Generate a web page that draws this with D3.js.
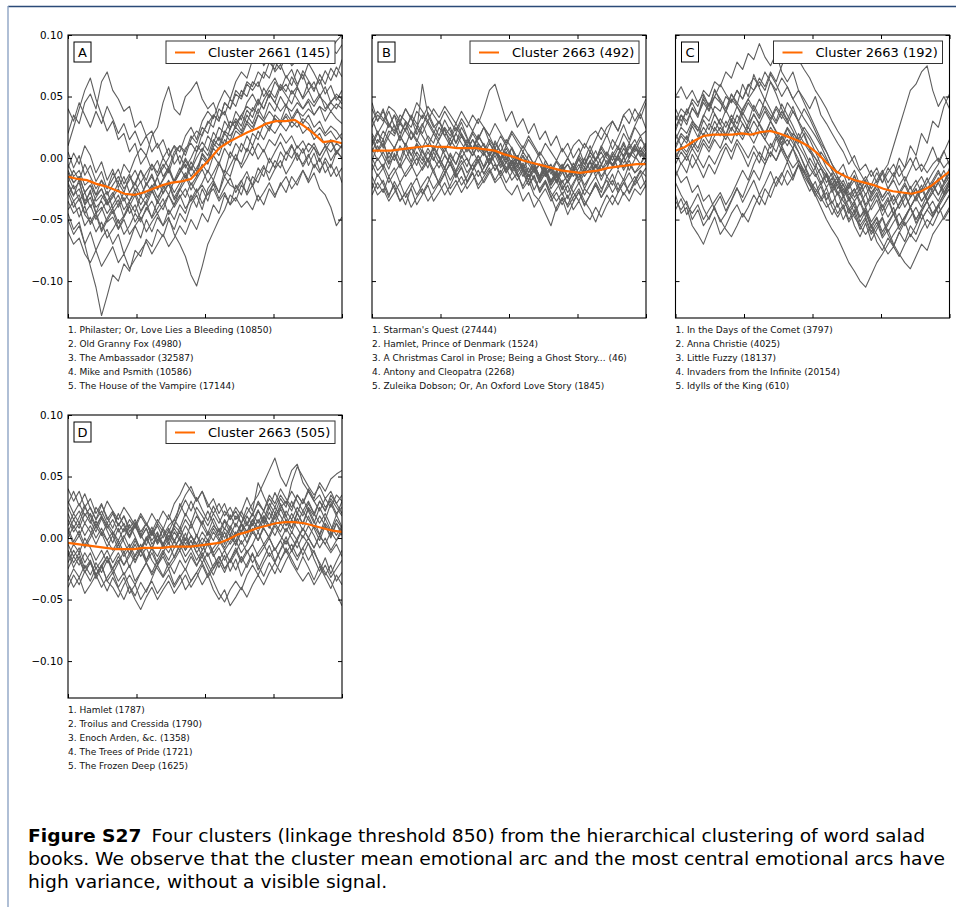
<!DOCTYPE html>
<html><head><meta charset="utf-8">
<script src="https://cdn.jsdelivr.net/npm/d3@7"></script>
<style>body{margin:0;background:#fff}svg{display:block}</style>
</head><body>
<svg id="c" width="956" height="907"></svg>
<script>
// values in thousandths of the emotional-arc score
const yTicks=[-0.10,-0.05,0.00,0.05,0.10];
const xTicks=[0,0.25,0.5,0.75,1];

const legendA="Cluster 2661 (145)", legendB="Cluster 2663 (492)", legendC="Cluster 2663 (192)", legendD="Cluster 2663 (505)";

const titlesA=["1. Philaster; Or, Love Lies a Bleeding (10850)","2. Old Granny Fox (4980)","3. The Ambassador (32587)","4. Mike and Psmith (10586)","5. The House of the Vampire (17144)"];
const titlesB=["1. Starman's Quest (27444)","2. Hamlet, Prince of Denmark (1524)","3. A Christmas Carol in Prose; Being a Ghost Story... (46)","4. Antony and Cleopatra (2268)","5. Zuleika Dobson; Or, An Oxford Love Story (1845)"];
const titlesC=["1. In the Days of the Comet (3797)","2. Anna Christie (4025)","3. Little Fuzzy (18137)","4. Invaders from the Infinite (20154)","5. Idylls of the King (610)"];
const titlesD=["1. Hamlet (1787)","2. Troilus and Cressida (1790)","3. Enoch Arden, &c. (1358)","4. The Trees of Pride (1721)","5. The Frozen Deep (1625)"];

const meanA=[-15,-17,-18,-21,-23,-26,-29,-30,-28,-25,-22,-20,-19,-17,-9,-1,8,13,17,21,24,28,30,30,31,26,20,13,14,12];
const meanB=[6,6,6,7,8,9,10,9,9,8,8,8,7,6,3,1,-2,-4,-6,-8,-10,-11,-12,-11,-10,-8,-7,-6,-5,-5];
const meanC=[6,9,14,18,19,19,19,20,19,21,22,20,17,14,10,4,-4,-11,-15,-18,-20,-22,-25,-27,-28,-29,-27,-23,-17,-11];
const meanD=[-4,-5,-6,-7,-8,-9,-9,-9,-8,-8,-8,-7,-7,-7,-6,-5,-4,-1,3,5,8,10,12,13,13,12,10,8,6,5];

const arcsA=[
[20,35,28,45,52,40,62,70,55,48,38,42,25,30,18,22,8,15,2,10,-5,8,12,5,20,28,35,30,45,40,52,48,60,55,62,50,58,65,55,60,52,58,48,55,45,52,40,46,50,44],
[-45,-58,-52,-70,-88,-105,-128,-112,-95,-100,-86,-92,-75,-80,-66,-72,-58,-64,-50,-58,-45,-52,-38,-30,-42,-25,-18,-28,-10,-15,0,-5,8,2,12,5,15,10,20,12,18,8,14,5,12,2,10,-2,6,0],
[-20,-30,-25,-38,-32,-45,-40,-52,-48,-58,-50,-62,-55,-48,-60,-52,-45,-55,-48,-62,-70,-80,-95,-104,-88,-70,-60,-50,-42,-30,-35,-22,-28,-15,-20,-8,-12,-2,-8,5,0,10,4,12,8,2,10,5,12,8],
[-10,-20,-15,-28,-22,-30,-18,-25,-12,-20,-5,-12,0,8,2,18,25,45,58,40,35,50,55,62,48,40,45,32,38,25,30,22,35,28,40,32,45,38,50,42,55,48,40,46,35,42,30,38,32,28],
[-30,-22,-35,-28,-40,-32,-25,-38,-30,-20,-28,-15,-22,-10,-18,-5,-12,0,-8,5,10,2,15,22,18,30,25,40,35,48,42,55,50,62,58,70,65,78,72,85,75,80,88,82,90,85,92,88,95,100],
[40,30,45,35,25,38,28,42,32,20,28,15,22,10,18,5,12,0,8,-5,2,-8,0,10,5,18,12,25,20,30,25,35,42,38,48,40,52,45,38,44,32,40,28,35,25,30,20,26,22,15],
[-50,-62,-55,-70,-60,-75,-65,-58,-70,-62,-78,-68,-55,-65,-50,-60,-48,-55,-42,-50,-38,-45,-30,-40,-25,-35,-20,-28,-15,-22,-25,-18,-30,-22,-35,-28,-20,-30,-22,-15,-25,-18,-10,-20,-12,-25,-30,-40,-55,-48],
[-15,-25,-20,-35,-28,-40,-35,-45,-38,-30,-42,-35,-28,-38,-30,-22,-32,-25,-18,-28,-20,-12,-22,-15,-5,-12,2,-5,8,0,12,5,18,10,22,15,25,20,28,22,30,25,32,28,20,25,18,22,15,20],
[-5,-15,-10,-22,-18,-30,-25,-35,-28,-40,-32,-45,-38,-50,-42,-35,-45,-38,-30,-40,-32,-25,-35,-28,-20,-10,-18,-5,-12,5,-2,12,5,20,15,28,22,35,30,42,38,45,40,48,42,50,45,38,44,40],
[-25,-35,-30,-45,-38,-50,-42,-35,-45,-38,-28,-35,-25,-32,-20,-28,-15,-5,-12,2,10,5,18,12,25,20,35,30,45,40,55,50,62,58,70,65,78,72,85,80,90,84,78,86,80,88,82,90,85,92],
[-35,-45,-40,-55,-48,-60,-52,-65,-58,-50,-62,-55,-45,-52,-40,-48,-35,-42,-30,-38,-25,-32,-20,-28,-22,-30,-25,-35,-28,-38,-32,-40,-35,-42,-30,-38,-25,-32,-20,-28,-15,-22,-10,-18,-5,-12,0,-8,5,0],
[10,25,40,55,65,48,35,22,30,15,20,5,12,-5,2,-10,-2,-15,-8,-20,-12,-5,-15,-8,0,-5,8,2,15,10,22,18,28,22,35,30,25,32,28,36,30,38,34,40,35,42,38,45,40,48],
[-60,-70,-65,-78,-85,-75,-88,-80,-72,-85,-78,-90,-82,-75,-68,-78,-70,-62,-72,-65,-55,-62,-50,-58,-45,-52,-38,-45,-30,-38,-22,-30,-15,-22,-8,-15,0,-8,5,-2,10,2,-5,3,-8,0,-12,-5,-15,-8],
[-20,-10,-18,-5,-15,-25,-18,-30,-22,-15,-25,-18,-10,-20,-12,-5,-15,-8,0,10,5,18,25,15,30,38,32,45,55,48,62,70,65,80,88,75,82,70,76,65,72,60,68,55,62,50,58,45,52,48],
[-12,-20,-15,-28,-22,-35,-30,-38,-32,-25,-35,-28,-20,-30,-22,-15,-25,-18,-10,-20,-12,-2,-10,0,8,2,15,10,22,18,25,20,30,25,35,30,38,32,28,34,25,30,20,25,15,20,10,15,5,10],
[-28,-40,-33,-46,-52,-44,-58,-49,-41,-53,-47,-36,-44,-31,-38,-27,-35,-22,-30,-18,-8,-16,-3,-11,4,-2,12,7,20,14,28,35,29,41,36,47,55,49,60,54,66,58,71,63,56,64,52,59,47,55],
[5,-8,2,-14,-6,-19,-11,-25,-17,-9,-21,-13,-27,-19,-32,-24,-16,-29,-21,-34,-26,-18,-7,-15,3,-4,9,17,10,24,32,26,39,33,46,40,52,45,58,51,44,57,49,62,54,68,60,73,66,80],
[-42,-35,-48,-39,-54,-46,-60,-51,-43,-57,-48,-39,-52,-44,-36,-49,-41,-33,-46,-38,-30,-41,-34,-25,-37,-29,-21,-33,-24,-16,-28,-19,-11,-23,-14,-6,-18,-9,-2,-13,-5,4,-7,1,9,-3,6,14,3,11],
[-8,4,-5,10,2,-12,-3,-18,-9,-24,-15,-28,-20,-10,-22,-13,-26,-17,-7,-19,-11,0,-9,5,13,6,21,14,30,23,38,31,45,52,43,57,49,62,55,67,59,72,64,77,69,60,71,63,74,66],
[-22,-31,-17,-38,-26,-45,-33,-27,-41,-34,-48,-39,-30,-43,-35,-25,-37,-28,-20,-32,-24,-14,-26,-17,-9,-20,-12,-3,-15,-6,3,-8,0,10,-1,7,-4,5,13,3,11,-2,8,-6,4,-10,-3,-15,-7,-20]
];

const arcsB=[
[45,30,40,25,35,20,28,15,22,60,35,25,30,18,25,12,20,8,15,5,12,2,8,0,5,-5,2,-8,-2,-10,-5,-12,-8,-15,-10,-5,-12,0,-8,5,-2,10,2,15,8,20,12,25,18,22],
[-20,-30,-25,-35,-28,-20,-32,-25,-38,-30,-22,-35,-28,-20,-30,-22,-15,-25,-18,-10,-20,-12,-5,-15,-8,-18,-12,-25,-18,-30,-35,-45,-55,-40,-32,-38,-28,-35,-25,-30,-20,-28,-15,-22,-10,-18,-5,-12,-8,-2],
[10,20,15,28,22,35,30,25,38,32,42,35,28,38,30,22,32,25,35,28,40,55,60,45,30,38,25,32,20,28,15,22,10,18,5,12,0,8,-5,2,-8,0,5,-2,8,2,12,5,15,10],
[0,-10,-5,-15,-8,-20,-12,-5,-15,-8,0,-10,-2,-12,-5,-15,-8,-20,-12,-25,-18,-10,-20,-15,-25,-30,-22,-35,-28,-40,-32,-25,-35,-28,-38,-30,-42,-35,-45,-50,-40,-48,-38,-30,-38,-28,-35,-25,-30,-22],
[25,35,30,42,38,30,40,32,25,35,28,20,30,22,15,25,18,10,20,12,5,15,8,0,10,2,-5,5,-2,-10,-5,-15,-8,-20,-12,-5,-15,-8,0,-10,-2,5,-5,2,10,0,8,15,5,12],
[-30,-20,-28,-15,-25,-35,-28,-40,-32,-25,-35,-28,-20,-30,-22,-12,-22,-15,-5,-15,-8,0,-10,-2,-12,-5,-15,-8,-18,-10,-20,-12,-22,-15,-25,-18,-28,-20,-30,-22,-15,-25,-18,-28,-20,-30,-22,-15,-25,-18],
[15,5,12,0,8,18,10,22,15,8,18,12,25,18,10,20,12,5,15,8,2,12,5,-2,8,0,-8,2,-5,-12,-5,-15,-8,-18,-10,-20,-12,-5,-15,-8,0,-10,-5,5,-2,8,0,10,4,-2],
[5,15,10,22,18,28,22,15,25,18,10,20,12,5,15,8,18,10,2,12,5,-5,5,-2,-10,-2,-12,-5,-15,-8,-20,-12,-25,-18,-30,-22,-35,-28,-38,-30,-22,-32,-25,-18,-28,-20,-12,-22,-15,-8],
[-10,0,-8,5,-2,10,2,-5,5,-2,8,0,-8,2,-5,-12,-5,0,-10,-3,5,-5,2,-8,0,-10,-18,-10,-22,-15,-28,-20,-32,-25,-18,-28,-20,-12,-22,-15,-5,-15,-8,2,-8,0,10,2,-5,5],
[30,38,32,25,35,28,40,32,45,38,30,40,33,42,35,28,38,30,22,32,25,18,28,20,12,22,15,8,18,10,2,12,5,-2,8,0,10,15,8,18,22,15,25,30,22,35,28,40,32,45],
[-15,-25,-18,-30,-22,-35,-28,-20,-30,-22,-15,-25,-18,-8,-18,-10,-2,-12,-5,2,-8,0,-10,-2,5,-5,2,-8,-15,-8,-18,-10,-20,-12,-5,-15,-8,-18,-10,-2,-12,-5,-15,-8,0,-10,-2,-12,-5,2],
[20,12,22,15,8,18,10,2,12,5,-2,8,0,-8,2,-5,5,15,8,18,10,2,12,5,15,8,0,10,2,-5,5,-2,-10,-2,-8,0,-8,2,-5,5,-2,8,0,-5,2,-8,0,8,2,10],
[-5,-15,-8,-20,-12,-5,-15,-8,0,-10,-2,-12,-20,-12,-25,-18,-28,-20,-12,-22,-15,-8,-18,-10,-20,-12,-5,-15,-8,-18,-25,-18,-28,-35,-28,-40,-32,-25,-35,-42,-52,-40,-30,-38,-28,-20,-28,-18,-10,-15],
[40,30,38,28,20,30,22,35,28,20,30,22,15,25,18,28,20,12,22,15,25,18,8,18,10,20,12,5,15,8,0,-10,-5,-15,-8,0,-8,2,12,5,15,25,18,30,22,35,40,30,38,48],
[8,-2,5,-5,2,-8,0,8,2,-5,5,-2,10,3,-5,5,0,8,2,10,4,-2,6,0,-8,-2,-10,-4,-12,-6,-15,-10,-18,-12,-20,-14,-10,-16,-8,-12,-5,-10,-2,-6,2,-4,4,0,6,2],
[12,22,8,18,27,14,24,33,19,28,16,6,15,24,11,20,29,17,7,16,25,13,3,12,-1,8,-6,2,-12,-3,-17,-8,-22,-13,-26,-18,-9,-21,-12,-3,-15,-6,4,-7,2,11,0,9,18,6],
[-25,-13,-21,-32,-19,-28,-38,-24,-16,-29,-20,-9,-22,-13,-3,-16,-7,-19,-10,-1,-13,-4,6,-6,3,-9,0,-12,-22,-14,-27,-19,-31,-43,-33,-46,-36,-27,-39,-30,-20,-32,-23,-13,-26,-17,-29,-20,-11,-24],
[32,20,28,38,26,17,30,21,13,26,37,27,18,31,22,12,25,16,6,19,10,1,14,5,-4,9,-1,-10,3,-6,-15,-2,-11,-20,-7,-16,-4,-13,-1,10,-2,9,19,7,17,27,15,26,36,24],
[-2,10,1,-9,4,-6,8,-3,11,1,-8,5,-4,9,-1,-11,2,-7,6,-3,-13,-4,7,-3,-12,-2,-14,-23,-13,-26,-16,-7,-19,-10,-22,-33,-22,-12,-25,-15,-6,-18,-8,3,-9,1,-10,-1,9,-3],
[18,6,15,-4,9,-2,12,3,-6,7,-3,10,1,-9,4,-5,8,-1,-10,2,-7,5,-4,-13,-3,-11,-1,-9,-18,-7,-15,-5,-13,-3,-11,-20,-10,-1,-12,-3,6,-5,4,-6,3,13,2,11,1,7]
];

const arcsC=[
[30,40,35,48,42,55,50,62,58,70,65,78,72,85,80,93,82,75,85,70,62,70,55,48,40,50,35,28,20,12,5,-5,2,-10,-5,-15,-8,-20,-12,-5,-15,-8,0,-10,-5,-12,-5,0,-8,-2],
[10,20,15,28,22,35,30,42,38,50,45,55,48,60,55,65,58,70,62,75,85,90,80,72,65,55,48,40,30,22,15,5,-5,-12,-20,-28,-22,-32,-25,-18,-28,-20,-30,-22,-15,-25,-18,-10,-20,-12],
[-30,-45,-40,-55,-62,-70,-58,-48,-62,-55,-45,-38,-48,-40,-30,-38,-25,-32,-20,-12,-22,-15,-5,-12,0,-8,5,-2,-10,-18,-25,-32,-40,-48,-42,-55,-48,-60,-52,-45,-55,-48,-40,-50,-42,-35,-45,-38,-30,-25],
[20,10,18,8,15,25,18,30,22,15,25,18,28,20,12,22,15,8,18,10,0,8,-5,-15,-22,-30,-40,-50,-58,-65,-75,-85,-92,-100,-105,-95,-85,-78,-70,-62,-55,-48,-40,-50,-42,-35,-28,-35,-25,-18],
[0,10,5,15,8,20,12,25,18,30,22,35,28,20,30,22,15,25,18,10,20,12,5,-5,-15,-8,-20,-12,-25,-18,-30,-22,-15,-25,-18,-10,-20,-12,-5,10,25,40,55,60,70,75,55,42,50,40],
[40,30,38,45,35,50,42,55,48,40,52,45,38,48,40,32,42,35,28,38,30,22,12,20,8,0,-8,-15,-22,-30,-25,-35,-28,-20,-30,-22,-12,-20,-8,-15,0,-8,10,2,20,12,30,25,42,52],
[-10,-20,-15,-28,-22,-35,-30,-42,-50,-58,-64,-55,-45,-52,-40,-30,-38,-25,-15,-22,-10,-18,-5,-12,-20,-28,-35,-28,-40,-48,-40,-52,-45,-58,-50,-62,-55,-48,-60,-52,-45,-55,-48,-40,-50,-42,-35,-45,-38,-30],
[25,35,30,40,35,45,38,50,45,38,48,42,35,45,38,48,40,32,42,35,28,38,30,22,15,5,-5,-12,-20,-28,-35,-42,-35,-48,-40,-52,-45,-38,-48,-40,-55,-48,-40,-32,-40,-30,-22,-30,-20,-12],
[5,-5,2,-8,0,12,5,15,8,20,12,25,18,28,35,28,38,30,40,32,45,38,30,40,32,22,12,5,-5,-15,-22,-30,-25,-35,-45,-55,-62,-70,-78,-72,-80,-70,-62,-68,-58,-50,-55,-45,-38,-30],
[-35,-42,-35,-50,-42,-55,-48,-40,-52,-45,-35,-25,-32,-20,-10,-18,-5,5,-2,10,15,8,20,12,5,0,-8,-15,-22,-15,-28,-20,-32,-25,-38,-30,-22,-32,-25,-35,-28,-40,-32,-25,-35,-28,-20,-30,-22,-15],
[15,25,20,30,25,18,28,22,32,25,35,28,40,48,55,62,55,68,60,50,58,48,40,32,25,18,10,0,-10,-18,-12,-25,-18,-30,-22,-35,-28,-40,-32,-45,-38,-30,-40,-32,-25,-35,-28,-20,-30,-22],
[-5,5,-2,8,0,-8,2,-5,5,12,5,15,8,0,10,2,-5,5,-2,8,0,-8,-2,-10,-18,-25,-32,-40,-35,-45,-38,-50,-42,-55,-48,-60,-52,-65,-58,-70,-78,-85,-90,-80,-70,-75,-62,-55,-48,-40],
[50,58,48,55,45,52,42,50,60,52,45,55,48,58,65,58,70,62,55,65,58,48,55,45,35,25,15,5,-5,-12,-5,-18,-10,-22,-15,-25,-18,-10,-20,-12,-22,-15,-25,-18,-28,-20,-12,-5,5,15],
[0,8,2,12,5,15,8,18,25,18,30,22,15,25,18,28,20,30,22,15,25,18,10,2,-8,-15,-8,-20,-12,-25,-18,-28,-35,-28,-40,-32,-25,-35,-28,-38,-30,-22,-32,-25,-35,-28,-20,-12,-20,-8],
[-20,-30,-38,-45,-38,-50,-42,-35,-28,-38,-30,-20,-10,-18,-5,5,-2,12,5,18,10,20,15,25,18,10,2,-8,-15,-22,-30,-40,-48,-55,-62,-55,-68,-75,-65,-72,-60,-68,-55,-62,-50,-42,-48,-40,-32,-25],
[22,35,27,41,33,48,39,56,46,37,52,43,60,50,68,57,47,62,52,40,31,42,29,18,7,-5,-14,-24,-16,-29,-21,-33,-25,-38,-29,-42,-34,-47,-38,-30,-41,-33,-23,-35,-26,-16,-28,-19,-10,-21],
[-15,-4,-12,3,-6,-16,-5,-13,-2,9,-1,12,3,-7,5,-4,10,1,16,6,-3,8,-1,-12,-21,-31,-23,-36,-46,-37,-50,-41,-55,-64,-53,-67,-58,-49,-62,-71,-61,-52,-64,-55,-45,-57,-48,-38,-50,-42],
[8,18,12,26,17,31,23,36,28,19,32,24,37,29,43,34,48,39,30,44,35,26,16,6,-4,-13,-22,-14,-28,-19,-32,-24,-14,-27,-18,-30,-22,-12,-25,-16,-6,-19,-9,1,-11,-2,9,-3,6,-6],
[-42,-33,-46,-38,-29,-41,-50,-39,-31,-43,-34,-24,-36,-27,-18,-30,-21,-11,-23,-14,-3,-15,-6,-17,-27,-19,-33,-24,-37,-28,-41,-33,-45,-36,-48,-39,-30,-43,-34,-46,-37,-28,-40,-31,-22,-34,-25,-16,-28,-19],
[35,26,40,31,22,34,45,36,27,39,30,42,33,24,36,27,18,30,21,12,24,15,5,-6,-17,-28,-20,-34,-25,-40,-31,-45,-37,-52,-43,-57,-49,-63,-54,-45,-58,-50,-40,-53,-44,-35,-47,-38,-29,-20]
];

const arcsD=[
[40,30,38,25,32,20,28,15,22,10,18,5,12,0,8,-5,2,-8,0,10,5,15,8,18,10,2,10,5,15,8,18,12,25,18,30,22,35,28,40,32,25,35,28,38,30,22,32,25,35,30],
[-10,-20,-12,-25,-18,-30,-22,-35,-28,-40,-32,-45,-38,-50,-42,-35,-45,-38,-30,-40,-32,-25,-35,-28,-20,-30,-22,-15,-25,-18,-10,-20,-12,-5,-15,-8,0,-10,-2,8,0,-8,2,-5,-12,-20,-28,-35,-45,-55],
[15,5,12,2,10,0,8,-2,5,-5,2,-8,0,-10,-2,5,-5,2,10,15,25,35,42,30,38,25,32,20,28,15,22,12,20,28,35,45,55,65,50,42,55,60,45,38,30,35,25,30,20,25],
[-20,-10,-18,-28,-20,-30,-22,-15,-25,-18,-30,-22,-35,-28,-20,-30,-22,-12,-22,-15,-5,-15,-8,-18,-10,-2,-12,-5,5,-5,2,12,5,15,8,18,10,2,12,5,15,8,0,10,2,-8,0,-10,-2,5],
[5,15,8,20,12,25,18,30,22,15,25,18,10,20,12,2,12,5,-5,5,-2,-10,-2,-12,-20,-12,-25,-18,-10,-20,-12,-2,-12,-5,5,-5,2,12,5,15,8,20,12,25,18,30,22,35,28,20],
[-30,-40,-32,-45,-38,-30,-40,-32,-25,-35,-28,-40,-50,-58,-48,-40,-50,-42,-35,-45,-38,-30,-40,-32,-22,-32,-25,-15,-25,-18,-8,-18,-10,-20,-12,-5,-15,-8,-18,-10,-20,-28,-35,-28,-38,-30,-22,-32,-25,-18],
[0,10,2,12,5,-5,5,-2,-10,-2,-12,-5,-15,-8,0,-8,2,-5,5,15,8,20,12,25,18,10,20,12,22,15,25,18,10,20,12,22,15,25,18,10,20,12,22,15,8,18,10,2,12,5],
[25,15,22,12,20,10,18,8,15,5,12,2,10,0,8,-2,5,-5,2,-8,0,-10,-2,-12,-5,-15,-8,-2,-10,-3,5,-5,2,12,5,15,8,18,25,30,22,35,28,40,32,45,38,48,52,55],
[-5,-15,-8,-20,-12,-25,-18,-10,-20,-12,-22,-15,-5,-15,-8,-18,-25,-32,-25,-38,-30,-42,-35,-28,-38,-30,-42,-50,-42,-55,-48,-40,-48,-38,-30,-38,-28,-20,-28,-18,-10,-18,-8,0,-8,2,-5,5,-2,8],
[10,20,12,25,18,8,18,10,2,12,5,15,8,18,10,20,12,22,15,28,35,45,38,30,38,28,20,28,18,25,15,22,12,20,28,22,32,25,35,28,38,30,22,30,20,12,20,10,2,10],
[-15,-5,-12,0,-8,-18,-10,-20,-12,-5,-15,-8,-18,-10,-20,-12,-22,-15,-25,-18,-10,-20,-12,-22,-15,-5,-15,-8,-18,-10,-2,-12,-5,5,-2,8,0,-10,-2,-12,-5,-15,-8,-18,-10,-22,-30,-22,-35,-28],
[30,20,28,18,25,15,22,12,20,10,18,8,15,5,12,2,10,0,8,-2,5,-5,2,-8,0,-5,5,-2,8,2,12,5,18,10,22,15,28,20,32,25,45,58,50,42,35,42,32,38,28,35],
[-25,-15,-22,-12,-20,-30,-22,-35,-40,-48,-38,-30,-38,-28,-20,-28,-18,-10,-18,-8,0,-8,2,-5,5,-2,8,0,-8,2,-5,5,12,5,15,8,0,10,2,-5,5,-2,8,0,-8,2,-5,-12,-5,-15],
[5,-5,2,-8,0,10,2,12,5,-2,8,0,10,2,12,5,15,8,-2,8,0,10,2,-5,-15,-25,-35,-45,-52,-42,-35,-42,-30,-22,-30,-20,-12,-20,-10,-2,-10,0,8,0,10,2,12,5,15,8],
[-35,-25,-32,-22,-30,-20,-28,-18,-25,-15,-22,-12,-20,-10,-18,-8,-15,-5,-12,-2,-10,0,-8,2,-5,5,-2,8,0,10,2,12,5,15,8,18,10,20,12,22,15,25,18,28,20,30,22,32,25,18],
[20,8,17,27,14,5,16,6,-4,8,-3,-13,-2,-11,1,-9,3,-7,6,-4,9,-2,12,1,14,4,16,6,-5,8,-3,11,1,14,23,12,25,15,28,18,8,21,11,24,14,3,16,6,19,9],
[-12,-24,-15,-28,-19,-33,-24,-15,-29,-20,-11,-24,-14,-5,-18,-8,-21,-12,-3,-16,-6,4,-8,3,-10,-1,-13,-24,-14,-27,-17,-31,-21,-12,-26,-16,-6,-19,-9,1,-11,-2,-14,-4,-17,-27,-16,-29,-19,-10],
[8,-3,6,-6,3,14,4,-7,2,-9,0,11,1,-10,-1,9,-2,7,19,9,28,18,30,20,11,22,12,2,14,4,-6,6,-4,8,-2,10,21,11,24,14,4,16,6,18,8,-2,10,0,12,2],
[-40,-30,-38,-27,-35,-24,-33,-43,-32,-41,-50,-39,-47,-36,-44,-33,-22,-31,-20,-29,-18,-26,-15,-23,-12,-21,-30,-19,-28,-17,-26,-15,-24,-13,-22,-31,-20,-29,-18,-8,-17,-26,-15,-24,-34,-23,-32,-41,-30,-38],
[28,38,26,36,24,15,27,17,8,20,10,1,13,3,-6,6,-4,8,-2,11,21,31,22,33,23,14,26,16,7,19,9,21,33,22,45,34,24,37,27,17,30,20,32,22,12,25,15,28,18,30]
];

const captionBold="Figure S27";
const captionLines=["Four clusters (linkage threshold 850) from the hierarchical clustering of word salad",
"books. We observe that the cluster mean emotional arc and the most central emotional arcs have",
"high variance, without a visible signal."];

// ---------- drawing ----------
const svg=d3.select("#c");
const W=274,H=283;
const panels=[
 {key:"A",legend:legendA,arcs:arcsA,mean:meanA,titles:titlesA,left:68,top:35,labels:true},
 {key:"B",legend:legendB,arcs:arcsB,mean:meanB,titles:titlesB,left:372,top:35,labels:false},
 {key:"C",legend:legendC,arcs:arcsC,mean:meanC,titles:titlesC,left:675.5,top:35,labels:false},
 {key:"D",legend:legendD,arcs:arcsD,mean:meanD,titles:titlesD,left:68,top:415,labels:true}
];
const x=d3.scaleLinear().domain([0,1]).range([0,W]);
const y=d3.scaleLinear().domain([-0.13,0.10]).range([H,0]);
const line=d3.line().x((d,i,a)=>x(i/(a.length-1))).y(d=>y(d/1000));

// page rules
svg.append("line").attr("x1",8).attr("x2",956).attr("y1",6.5).attr("y2",6.5).attr("stroke","#2b4a78").attr("stroke-width",1.4);
svg.append("line").attr("x1",8).attr("x2",8).attr("y1",6).attr("y2",907).attr("stroke","#8ea4c4").attr("stroke-width",1.4);

const defs=svg.append("defs");
panels.forEach(p=>{
  defs.append("clipPath").attr("id","clip"+p.key).append("rect").attr("width",W).attr("height",H);
  const g=svg.append("g").attr("transform",`translate(${p.left},${p.top})`);
  const lg=g.append("g").attr("clip-path",`url(#clip${p.key})`);
  lg.selectAll("path.arc").data(p.arcs).join("path").attr("class","arc")
    .attr("d",d=>line(d)).attr("fill","none").attr("stroke","#5e5e5e").attr("stroke-width",1.1).attr("stroke-linejoin","round");
  lg.append("path").attr("d",line(p.mean)).attr("fill","none").attr("stroke","#ff6a00").attr("stroke-width",2.2);

  const fmt=d=>d3.format(".2f")(d).replace("-","\u2212");
  const ax=(gen,tr)=>{const a=g.append("g").attr("transform",tr).call(gen);a.select(".domain").remove();a.selectAll("line").attr("stroke","#000");return a;};
  const la=ax(d3.axisLeft(y).tickValues(yTicks).tickSizeInner(-4).tickSizeOuter(0).tickPadding(5).tickFormat(p.labels?fmt:()=>""),"translate(0,0)");
  la.selectAll("text").attr("font-family","DejaVu Sans").attr("font-size",10.3).attr("fill","#000");
  ax(d3.axisRight(y).tickValues(yTicks).tickSizeInner(-4).tickSizeOuter(0).tickFormat(()=>""),`translate(${W},0)`);
  ax(d3.axisTop(x).tickValues(xTicks).tickSizeInner(-4).tickSizeOuter(0).tickFormat(()=>""),"translate(0,0)");
  ax(d3.axisBottom(x).tickValues(xTicks).tickSizeInner(-4).tickSizeOuter(0).tickFormat(()=>""),`translate(0,${H})`);
  g.append("rect").attr("width",W).attr("height",H).attr("fill","none").attr("stroke","#000").attr("stroke-width",1.1);

  // panel letter
  g.append("rect").attr("x",6).attr("y",7).attr("width",17).attr("height",20).attr("fill","#fff").attr("stroke","#000").attr("stroke-width",1);
  g.append("text").attr("x",14.5).attr("y",22).attr("text-anchor","middle").attr("font-family","DejaVu Sans").attr("font-size",13).text(p.key);

  // legend
  const bx=98,by=6;
  g.append("rect").attr("x",bx).attr("y",by).attr("width",169).attr("height",22.5).attr("fill","#fff").attr("stroke","#333").attr("stroke-width",1);
  g.append("line").attr("x1",bx+9).attr("x2",bx+29).attr("y1",by+11.5).attr("y2",by+11.5).attr("stroke","#ff6a00").attr("stroke-width",2);
  g.append("text").attr("x",bx+42).attr("y",by+16).attr("font-family","DejaVu Sans").attr("font-size",13).attr("fill","#000").text(p.legend);

  // titles
  g.selectAll("text.title").data(p.titles).join("text").attr("class","title")
    .attr("x",0).attr("y",(d,i)=>H+14.7+i*14.15).attr("font-family","DejaVu Sans").attr("font-size",9).attr("fill","#111").text(d=>d);
});

// caption
const cap=svg.append("g").attr("font-family","DejaVu Sans").attr("font-size",17).attr("fill","#000");
const t1=cap.append("text").attr("x",28).attr("y",842);
t1.append("tspan").attr("font-weight","bold").text(captionBold);
t1.append("tspan").attr("dx",9).text(captionLines[0]);
const t2=cap.append("text").attr("x",28).attr("y",865).text(captionLines[1]);
const t3=cap.append("text").attr("x",28).attr("y",888).text(captionLines[2]);
const n2=t2.node().getComputedTextLength();
const ratio=917/n2;
t1.attr("textLength",897).attr("lengthAdjust","spacingAndGlyphs");
t2.attr("textLength",917).attr("lengthAdjust","spacingAndGlyphs");
t3.attr("textLength",t3.node().getComputedTextLength()*ratio).attr("lengthAdjust","spacingAndGlyphs");
</script>
</body></html>
